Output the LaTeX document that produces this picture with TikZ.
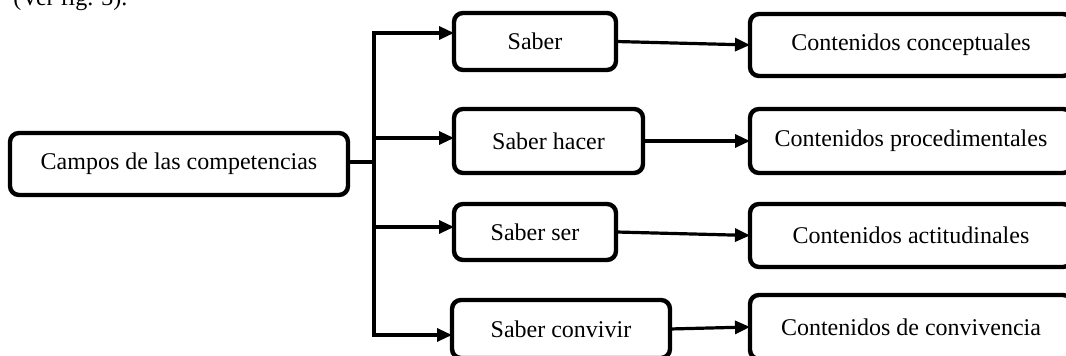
\documentclass[tikz,border=0pt]{standalone}
\usepackage{fontspec}
\setmainfont{Liberation Serif}
\usetikzlibrary{arrows.meta,backgrounds}
\begin{document}
\begin{tikzpicture}[x=0.5pt,y=-0.5pt,
  box/.style={draw, line width=2.2pt, rounded corners=4.5pt, inner sep=0pt, outer sep=0pt,
    font=\fontsize{12}{14}\selectfont, fill=white},
  arr/.style={line width=1.6pt, -{Triangle[length=7.5pt,width=6.5pt]}},
  ln/.style={line width=1.6pt}]
\useasboundingbox (0,0) rectangle (1066,356);
\clip (0,0) rectangle (1066,356);
\node[anchor=base west, inner sep=0pt, font=\fontsize{12}{14}\selectfont] (ver) at (13,6) {(Ver fig. 3).};
\node[box, minimum width=169pt, minimum height=31pt] (camp) at (179,164) {Campos de las competencias};
\node[box, minimum width=81pt, minimum height=28.5pt] (saber) at (535,41.5) {Saber};
\node[box, minimum width=94.5pt, minimum height=32pt] (shacer) at (548.5,141) {Saber hacer};
\node[box, minimum width=81pt, minimum height=28pt] (sser) at (535,232) {Saber ser};
\node[box, minimum width=109pt, minimum height=29pt] (sconv) at (561,329) {Saber convivir};
\node[box, minimum width=161pt, minimum height=31pt] (ccon) at (911,45) {Contenidos conceptuales};
\node[box, minimum width=161pt, minimum height=32pt] (cproc) at (911,141) {Contenidos procedimentales};
\node[box, minimum width=161pt, minimum height=31.5pt] (cact) at (911,235.5) {Contenidos actitudinales};
\node[box, minimum width=161pt, minimum height=32pt] (cconv) at (911,327) {Contenidos de convivencia};
\coordinate (t1) at (374,33);
\coordinate (t2) at (374,138);
\coordinate (t3) at (374,227);
\coordinate (t4) at (374,335);
\coordinate (tc) at (374,162);
\begin{scope}[on background layer]
\draw[ln, shorten <=-4pt] (camp.east |- tc) -- (tc);
\draw[arr] (t2) -- (t1) -- (t1 -| saber.west);
\draw[arr] (t2) -- (t4) -- (t4 -| sconv.west);
\draw[arr] (t2) -- (t2 -| shacer.west);
\draw[arr] (t3) -- (t3 -| sser.west);
\draw[arr, shorten <=-4pt] (saber.east) -- (ccon.west);
\draw[arr, shorten <=-4pt] (shacer.east) -- (cproc.west);
\draw[arr, shorten <=-4pt] (sser.east) -- (cact.west);
\draw[arr, shorten <=-4pt] (sconv.east) -- (cconv.west);
\end{scope}
\end{tikzpicture}
\end{document}
